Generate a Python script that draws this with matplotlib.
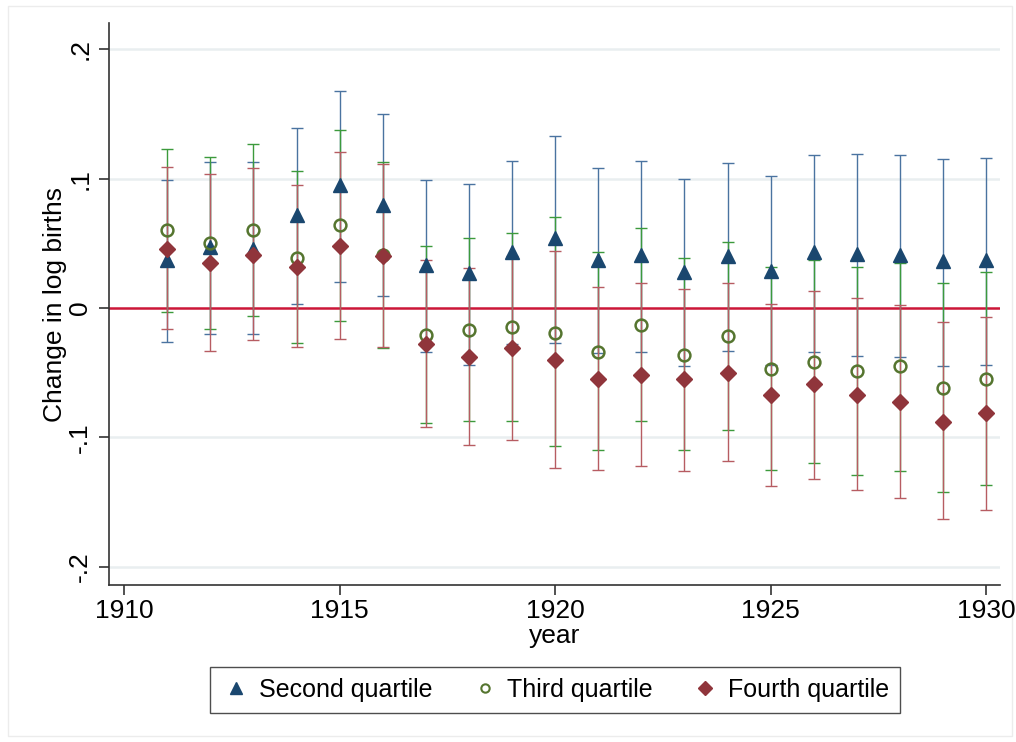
import numpy as np
import matplotlib
matplotlib.use("Agg")
import matplotlib.pyplot as plt
from matplotlib.patches import Rectangle
from matplotlib.lines import Line2D

plt.rcParams['font.family'] = ['Liberation Sans', 'DejaVu Sans']

years = np.arange(1911, 1931)

# Second quartile (estimate, lower, upper)
q2_est = [0.037, 0.047, 0.046, 0.072, 0.095, 0.080, 0.033, 0.027, 0.043, 0.054,
          0.037, 0.041, 0.028, 0.040, 0.029, 0.043, 0.042, 0.041, 0.036, 0.037]
q2_lo = [-0.026, -0.020, -0.020, 0.003, 0.020, 0.009, -0.034, -0.044, -0.028, -0.027,
         -0.035, -0.034, -0.045, -0.033, -0.044, -0.034, -0.037, -0.038, -0.045, -0.044]
q2_hi = [0.099, 0.113, 0.113, 0.139, 0.168, 0.150, 0.099, 0.096, 0.114, 0.133,
         0.108, 0.114, 0.100, 0.112, 0.102, 0.118, 0.119, 0.118, 0.115, 0.116]

# Third quartile
q3_est = [0.060, 0.050, 0.060, 0.039, 0.064, 0.041, -0.021, -0.017, -0.015, -0.019,
          -0.034, -0.013, -0.036, -0.022, -0.047, -0.042, -0.049, -0.045, -0.062, -0.055]
q3_lo = [-0.003, -0.016, -0.006, -0.027, -0.010, -0.031, -0.089, -0.087, -0.087, -0.107,
         -0.110, -0.087, -0.110, -0.094, -0.125, -0.120, -0.129, -0.126, -0.142, -0.137]
q3_hi = [0.123, 0.117, 0.127, 0.106, 0.138, 0.113, 0.048, 0.054, 0.058, 0.070,
         0.043, 0.062, 0.039, 0.051, 0.032, 0.037, 0.032, 0.035, 0.019, 0.028]

# Fourth quartile
q4_est = [0.046, 0.035, 0.041, 0.032, 0.048, 0.040, -0.028, -0.038, -0.031, -0.040,
          -0.055, -0.052, -0.055, -0.050, -0.067, -0.059, -0.067, -0.073, -0.088, -0.081]
q4_lo = [-0.016, -0.033, -0.025, -0.030, -0.024, -0.030, -0.092, -0.106, -0.102, -0.124,
         -0.125, -0.122, -0.126, -0.118, -0.138, -0.132, -0.141, -0.147, -0.163, -0.156]
q4_hi = [0.109, 0.104, 0.108, 0.095, 0.121, 0.111, 0.037, 0.031, 0.040, 0.044,
         0.016, 0.019, 0.015, 0.019, 0.003, 0.013, 0.008, 0.002, -0.011, -0.007]

labels = ["Second quartile", "Third quartile", "Fourth quartile"]

navy = "#1a476f"
olive = "#55752f"
maroon = "#90353b"
ci_cols = ["#4a73a0", "#3c9a3c", "#b75c62"]

fig = plt.figure(figsize=(10.16, 7.42), dpi=100)
frame = Rectangle((8/1016, 6/742), 1004/1016, 730/742, transform=fig.transFigure,
                  fill=False, edgecolor="#ececec", linewidth=1, zorder=-1)
fig.patches.append(frame)
ax = fig.add_axes([109/1016, 157/742, 891/1016, 562/742])

for yv in [-0.2, -0.1, 0.1, 0.2]:
    ax.axhline(yv, color="#e9eef0", linewidth=1.8, zorder=0)
ax.axhline(0, color="#cc1638", linewidth=1.8, zorder=1)

series = [(q2_est, q2_lo, q2_hi), (q3_est, q3_lo, q3_hi), (q4_est, q4_lo, q4_hi)]
for (est, lo, hi), col in zip(series, ci_cols):
    est = np.array(est)
    err = [est - np.array(lo), np.array(hi) - est]
    ax.errorbar(years, est, yerr=err, fmt="none", ecolor=col, elinewidth=1.0,
                capsize=4.5, capthick=1.0, zorder=2)

ax.plot(years, q2_est, linestyle="none", marker="^", markersize=10, color=navy, zorder=3)
ax.plot(years, q3_est, linestyle="none", marker="o", markersize=8.5, markerfacecolor="none",
        markeredgecolor=olive, markeredgewidth=1.8, zorder=3)
ax.plot(years, q4_est, linestyle="none", marker="D", markersize=8.5, color=maroon, zorder=3)

ax.set_xlim(1909.65, 1930.32)
ax.set_ylim(-0.2142, 0.2204)
ax.set_xticks([1910, 1915, 1920, 1925, 1930])
ax.set_yticks([-0.2, -0.1, 0, 0.1, 0.2])
ax.set_yticklabels(["-.2", "-.1", "0", ".1", ".2"], rotation=90, va="center")
ax.tick_params(axis="both", labelsize=19, length=7, width=1.2, color="#333333")
ax.tick_params(axis="y", pad=5)
ax.tick_params(axis="x", pad=3)
for s in ["top", "right"]:
    ax.spines[s].set_visible(False)
for s in ["left", "bottom"]:
    ax.spines[s].set_linewidth(1.2)
    ax.spines[s].set_color("#333333")

ax.set_xlabel("year", fontsize=19, labelpad=1)
ax.set_ylabel("Change in log births", fontsize=19, labelpad=1)

handles = [
    Line2D([], [], linestyle="none", marker="^", markersize=8, color=navy),
    Line2D([], [], linestyle="none", marker="o", markersize=6, markerfacecolor="none",
           markeredgecolor=olive, markeredgewidth=1.5),
    Line2D([], [], linestyle="none", marker="D", markersize=7, color=maroon),
]
leg = fig.legend(handles, labels, loc="center", bbox_to_anchor=(555/1016, 52/742), ncol=3,
                 fontsize=18, frameon=True, fancybox=False, handletextpad=0.3,
                 columnspacing=1.5, borderpad=0.45, handlelength=1.2)
leg.get_frame().set_edgecolor("#222222")
leg.get_frame().set_linewidth(1.0)

fig.savefig("out.png", dpi=100)
